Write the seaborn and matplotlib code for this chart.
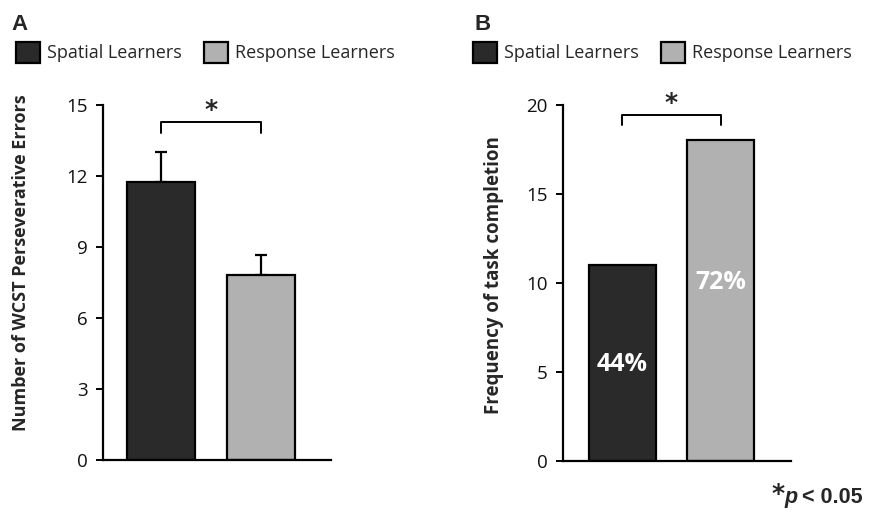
import matplotlib
matplotlib.use("Agg")
import matplotlib.pyplot as plt
import seaborn as sns
import pandas as pd
from matplotlib.patches import Patch

sns.set_theme(style="white")
plt.rcParams["font.family"] = ["Open Sans", "DejaVu Sans"]

groups = ["Spatial Learners", "Response Learners"]
colors = ["#2a2a2a", "#b1b1b1"]

# Panel A: WCST perseverative errors (mean + SEM)
wcst_mean = [11.75, 7.8]
wcst_sem = [1.25, 0.85]
wcst_ticks = [0, 3, 6, 9, 12, 15]

# Panel B: task completion counts and percentages
completion = [11, 18]
completion_pct = ["44%", "72%"]
completion_ticks = [0, 5, 10, 15, 20]

fig = plt.figure(figsize=(8.75, 5.18), dpi=100)
axA = fig.add_axes([0.1177, 0.112, 0.2606, 0.685])
axB = fig.add_axes([0.6434, 0.1106, 0.2606, 0.6874])

dfA = pd.DataFrame({"group": groups, "value": wcst_mean})
dfB = pd.DataFrame({"group": groups, "value": completion})

for ax, df in ((axA, dfA), (axB, dfB)):
    sns.barplot(data=df, x="group", y="value", hue="group", palette=colors,
                width=0.68, edgecolor="black", linewidth=1.6, legend=False,
                ax=ax, zorder=2)

# upper-only error bars on panel A
axA.errorbar([0, 1], wcst_mean, yerr=[[0, 0], wcst_sem], fmt="none",
             ecolor="black", elinewidth=1.6, capsize=4, capthick=1.6, zorder=1)

def style_axis(ax, ticks, ylabel, label_size, label_x, label_y):
    ax.set_ylim(ticks[0], ticks[-1])
    ax.set_yticks(ticks)
    ax.set_yticklabels([str(t) for t in ticks], fontsize=13.5)
    ax.set_xticks([])
    ax.set_xlabel("")
    ax.set_ylabel(ylabel, fontsize=label_size, fontweight="bold")
    ax.yaxis.set_label_coords(label_x, label_y)
    for side in ("top", "right"):
        ax.spines[side].set_visible(False)
    for side in ("left", "bottom"):
        ax.spines[side].set_color("black")
        ax.spines[side].set_linewidth(1.6)
    ax.tick_params(axis="y", direction="out", length=5, width=1.4,
                   color="black", left=True, pad=6, labelcolor="#111111")
    ax.set_facecolor("white")

style_axis(axA, wcst_ticks, "Number of WCST Perseverative Errors", 13, -0.32, 0.555)
style_axis(axB, completion_ticks, "Frequency of task completion", 13.5, -0.26, 0.52)
axA.set_xlim(-0.58, 1.70)
axB.set_xlim(-0.60, 1.71)

# significance brackets
def bracket(ax, y_top, y_leg):
    ax.plot([0, 0, 1, 1], [y_leg, y_top, y_top, y_leg], color="black",
            lw=1.4, clip_on=False)
    ax.text(0.5, y_top, "*", ha="center", va="bottom", fontsize=18,
            fontweight="bold", family="DejaVu Sans")

bracket(axA, 14.27, 13.83)
bracket(axB, 19.42, 18.86)

# percentages inside panel B bars
for i, (v, lab) in enumerate(zip([5.4, 10.0], completion_pct)):
    axB.text(i, v, lab, ha="center", va="center", color="white",
             fontsize=18, fontweight="bold")

# panel letters
fig.text(0.013, 0.943, "A", fontsize=16, fontweight="bold", family="Liberation Sans")
fig.text(0.542, 0.943, "B", fontsize=16, fontweight="bold", family="Liberation Sans")

# legends
handles = [Patch(facecolor=c, edgecolor="black", linewidth=1.6, label=g)
           for c, g in zip(colors, groups)]
for x0 in (0.018, 0.540):
    fig.legend(handles=handles, loc="center left", bbox_to_anchor=(x0, 0.899),
               ncol=2, frameon=False, fontsize=13, handlelength=1.35,
               handleheight=1.45, handletextpad=0.4, columnspacing=1.2,
               borderaxespad=0, borderpad=0)

# footnote: "*p < 0.05"
fig.text(0.889, 0.046, "*", fontsize=18, fontweight="bold", family="DejaVu Sans",
         ha="center", va="center")
p_txt = fig.text(0.897, 0.029, "p", fontsize=15.5, fontweight="bold", style="italic",
                 family="Liberation Sans", ha="left", va="baseline")
fig.canvas.draw()
bb = p_txt.get_window_extent(renderer=fig.canvas.get_renderer())
fig.text((bb.x1 + 4) / fig.bbox.width, 0.029, "< 0.05", fontsize=15.5,
         fontweight="bold", family="Liberation Sans", ha="left", va="baseline")

fig.savefig("out.png", dpi=100, facecolor="white")
